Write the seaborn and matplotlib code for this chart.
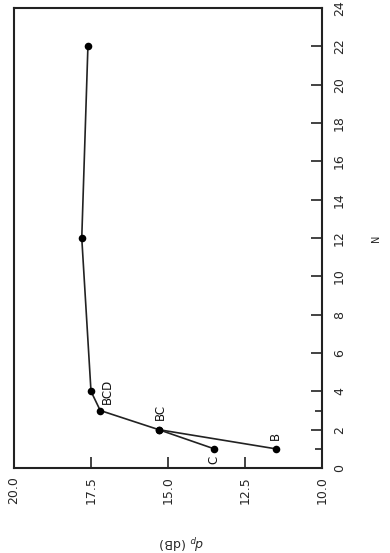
import matplotlib
matplotlib.use("Agg")
import matplotlib.pyplot as plt
import seaborn as sns
import pandas as pd

# Data (chart is drawn rotated: horizontal axis = d_p in dB, vertical axis = N)
n_main = [1, 2, 3, 4, 12, 22]
dp_main = [11.5, 15.3, 17.2, 17.5, 17.8, 17.6]
n_branch = [1, 2]
dp_branch = [13.5, 15.3]

point_labels = ["B", "C", "BC", "BCD"]
label_n = [1.65, 0.42, 2.92, 4.0]
label_dp = [11.5, 13.5, 15.26, 16.98]

x_ticks = [20.0, 17.5, 15.0, 12.5, 10.0]
y_ticks = [0, 2, 4, 6, 8, 10, 12, 14, 16, 18, 20, 22, 24]
y_minor = [1, 3]

sns.set_style("ticks")
plt.rcParams['font.family'] = ['DejaVu Sans']

fig = plt.figure(figsize=(3.9, 5.53), dpi=100)
ax = fig.add_axes([14/390, 1 - 468/553, 308/390, 460/553])

df_main = pd.DataFrame({"dp": dp_main, "N": n_main})
df_branch = pd.DataFrame({"dp": dp_branch, "N": n_branch})

sns.lineplot(data=df_main, x="dp", y="N", sort=False, estimator=None,
             color="#222222", lw=1.2, ax=ax)
sns.lineplot(data=df_branch, x="dp", y="N", sort=False, estimator=None,
             color="#222222", lw=1.2, ax=ax)
df_pts = pd.concat([df_main, df_branch], ignore_index=True)
sns.scatterplot(data=df_pts, x="dp", y="N", color="black", s=30,
                edgecolor="black", linewidth=0, ax=ax, zorder=5)

for lab, xd, yn in zip(point_labels, label_dp, label_n):
    ax.text(xd, yn, lab, rotation=90, ha="center", va="center",
            fontsize=8.5, color="#111111")

ax.set_xlim(20, 10)
ax.set_ylim(0, 24)
ax.set_xticks(x_ticks)
ax.set_xticklabels([f"{v:.1f}" for v in x_ticks], rotation=90, fontsize=9)
ax.set_yticks(y_ticks)
ax.set_yticks(y_minor, minor=True)
ax.yaxis.tick_right()
ax.set_yticklabels([str(v) for v in y_ticks], rotation=90, fontsize=9, va="center")

ax.tick_params(axis="both", which="major", direction="in", length=8, width=1.2, color="#222222")
ax.tick_params(axis="y", which="minor", direction="in", length=5, width=1.2, color="#222222")
ax.tick_params(axis="x", pad=6)
ax.tick_params(axis="y", pad=8)

for s in ax.spines.values():
    s.set_visible(True)
    s.set_linewidth(1.5)
    s.set_color("#222222")

ax.set_xlabel(r"$d_p$ (dB)", rotation=180, fontsize=9)
ax.xaxis.set_label_coords(0.545, -0.139)
ax.yaxis.set_label_position("right")
ax.set_ylabel("N", rotation=90, fontsize=7, va="center")
ax.yaxis.set_label_coords(1.175, 0.5)

fig.savefig("out.png", dpi=100)
